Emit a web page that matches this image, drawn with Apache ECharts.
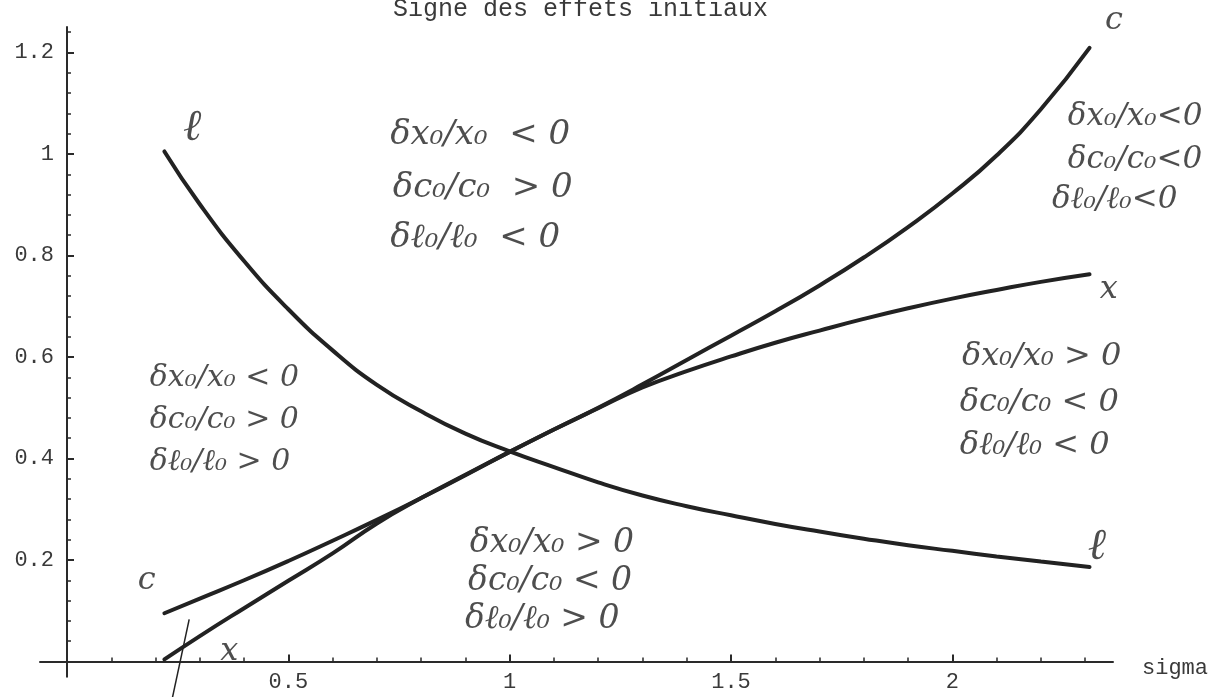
<!DOCTYPE html>
<html>
<head>
<meta charset="utf-8">
<title>Signe des effets initiaux</title>
<script src="https://cdn.jsdelivr.net/npm/echarts@6/dist/echarts.min.js"></script>
<style>
  html, body { margin: 0; padding: 0; background: #ffffff; }
  #chart { width: 1224px; height: 697px; }
</style>
</head>
<body>
<div id="chart"></div>
<script>
// Elasticity of substitution (sigma) sampled along the three curves
const sigma = [0.22, 0.3, 0.4, 0.5, 0.6, 0.7, 0.8, 0.9, 1.0, 1.1, 1.2, 1.3, 1.4, 1.5, 1.6, 1.7, 1.8, 1.9, 2.0, 2.1, 2.2, 2.31];
// curve l
const lVals = [1.005, 0.901, 0.789, 0.694, 0.613, 0.545, 0.493, 0.449, 0.414, 0.383, 0.353, 0.327, 0.306, 0.288, 0.271, 0.256, 0.242, 0.229, 0.218, 0.207, 0.197, 0.186];
// curve c
const cVals = [0.095, 0.124, 0.160, 0.198, 0.238, 0.279, 0.322, 0.367, 0.413, 0.457, 0.500, 0.546, 0.594, 0.642, 0.690, 0.741, 0.796, 0.856, 0.922, 0.997, 1.088, 1.209];
// curve x
const xVals = [0.004, 0.050, 0.105, 0.159, 0.213, 0.272, 0.322, 0.368, 0.413, 0.457, 0.499, 0.540, 0.572, 0.601, 0.628, 0.652, 0.675, 0.696, 0.715, 0.732, 0.748, 0.763];

// tick values
const xTickLabels = [0.5, 1, 1.5, 2];
const xMinorTicks = [0.1, 0.2, 0.3, 0.4, 0.6, 0.7, 0.8, 0.9, 1.1, 1.2, 1.3, 1.4, 1.6, 1.7, 1.8, 1.9, 2.1, 2.2, 2.3];
const yTickLabels = [0.2, 0.4, 0.6, 0.8, 1, 1.2];
const yMinorTicks = [0.04, 0.08, 0.12, 0.16, 0.24, 0.28, 0.32, 0.36, 0.44, 0.48, 0.52, 0.56,
  0.64, 0.68, 0.72, 0.76, 0.84, 0.88, 0.92, 0.96, 1.04, 1.08, 1.12, 1.16, 1.24];

// handwritten sign notes for each region: [sigma, value, text]
const notesTop = [
  [0.730, 1.037, 'δx₀/x₀  < 0'],
  [0.736, 0.933, 'δc₀/c₀  > 0'],
  [0.730, 0.834, 'δℓ₀/ℓ₀  < 0']
];
const notesTopRight = [
  [2.261, 1.073, 'δx₀/x₀<0'],
  [2.261, 0.988, 'δc₀/c₀<0'],
  [2.225, 0.909, 'δℓ₀/ℓ₀<0']
];
const notesLeft = [
  [0.187, 0.558, 'δx₀/x₀ < 0'],
  [0.187, 0.476, 'δc₀/c₀ > 0'],
  [0.187, 0.393, 'δℓ₀/ℓ₀ > 0']
];
const notesRight = [
  [2.022, 0.600, 'δx₀/x₀ > 0'],
  [2.017, 0.509, 'δc₀/c₀ < 0'],
  [2.017, 0.426, 'δℓ₀/ℓ₀ < 0']
];
const notesBottom = [
  [0.910, 0.233, 'δx₀/x₀ > 0'],
  [0.906, 0.157, 'δc₀/c₀ < 0'],
  [0.899, 0.082, 'δℓ₀/ℓ₀ > 0']
];
// curve names written next to the curve ends
const lTags = [
  [0.262, 1.051, 'ℓ'],
  [2.306, 0.224, 'ℓ']
];
const cxTags = [
  [2.345, 1.262, 'c'],
  [2.333, 0.732, 'x'],
  [0.160, 0.160, 'c'],
  [0.346, 0.019, 'x']
];
// pen stroke across the start of x
const penStroke = [[0.276, 0.083], [0.238, -0.072]];

const tickFont = 'Liberation Mono, DejaVu Sans Mono, monospace';
const handFont = 'DejaVu Serif, Liberation Serif, serif';
const axisColor = '#2a2a2a';
const textColor = '#3a3a3a';
const inkColor = '#222222';

const xRange = { min: -0.061, max: 2.363 };
const yRange = { min: -0.03, max: 1.25 };

const fmt = v => String(Math.round(v * 100) / 100);

function pairs(ys) { return sigma.map((s, i) => [s, ys[i]]); }

function curve(name, ys) {
  return {
    name: name, type: 'line', xAxisIndex: 0, yAxisIndex: 0,
    data: pairs(ys), smooth: 0.5,
    showSymbol: false, symbol: 'none', clip: false,
    lineStyle: { color: inkColor, width: 4, cap: 'round' },
    z: 3
  };
}

function notes(name, rows, size) {
  return {
    name: name, type: 'scatter', xAxisIndex: 0, yAxisIndex: 0,
    data: rows, symbolSize: 0, clip: false, silent: true,
    label: {
      show: true, position: 'right', distance: 0,
      formatter: p => p.data[2],
      fontFamily: handFont, fontStyle: 'italic', fontSize: size,
      color: inkColor
    },
    z: 4
  };
}

const chart = echarts.init(document.getElementById('chart'), null, { renderer: 'canvas' });

chart.setOption({
  backgroundColor: '#ffffff',
  animation: false,
  title: {
    text: 'Signe des effets initiaux',
    left: 388, top: -8,
    textStyle: { fontFamily: tickFont, fontSize: 25, fontWeight: 'normal', color: textColor }
  },
  grid: {
    left: 40, right: 111, top: 27.1, bottom: 20.3,
    containLabel: false, outerBoundsMode: 'none'
  },
  xAxis: [
    {
      type: 'value', position: 'bottom', min: xRange.min, max: xRange.max,
      axisLine: { show: true, onZero: true, onZeroAxisIndex: 0, lineStyle: { color: axisColor, width: 2 } },
      axisTick: { show: true, inside: true, length: 7, customValues: xTickLabels, lineStyle: { color: axisColor, width: 2 } },
      axisLabel: {
        show: true, customValues: xTickLabels, margin: -6, formatter: fmt,
        fontFamily: tickFont, fontSize: 22, color: textColor
      },
      splitLine: { show: false },
      name: 'sigma', nameLocation: 'end', nameGap: 29,
      nameTextStyle: { fontFamily: tickFont, fontSize: 22, color: textColor, verticalAlign: 'top', lineHeight: 14 }
    },
    {
      type: 'value', position: 'bottom', min: xRange.min, max: xRange.max,
      axisLine: { show: false, onZero: true, onZeroAxisIndex: 0 },
      axisTick: { show: true, inside: true, length: 4, customValues: xMinorTicks, lineStyle: { color: axisColor, width: 1.5 } },
      axisLabel: { show: false },
      splitLine: { show: false }
    }
  ],
  yAxis: [
    {
      type: 'value', position: 'left', min: yRange.min, max: yRange.max,
      axisLine: { show: true, onZero: true, onZeroAxisIndex: 0, lineStyle: { color: axisColor, width: 2 } },
      axisTick: { show: true, inside: true, length: 7, customValues: yTickLabels, lineStyle: { color: axisColor, width: 2 } },
      axisLabel: {
        show: true, customValues: yTickLabels, margin: -14, formatter: fmt,
        fontFamily: tickFont, fontSize: 22, color: textColor
      },
      splitLine: { show: false }
    },
    {
      type: 'value', position: 'left', min: yRange.min, max: yRange.max,
      axisLine: { show: false, onZero: true, onZeroAxisIndex: 0 },
      axisTick: { show: true, inside: true, length: 4, customValues: yMinorTicks, lineStyle: { color: axisColor, width: 1.5 } },
      axisLabel: { show: false },
      splitLine: { show: false }
    }
  ],
  series: [
    curve('l', lVals),
    curve('c', cVals),
    curve('x', xVals),
    {
      name: 'trait', type: 'line', xAxisIndex: 0, yAxisIndex: 0,
      data: penStroke, showSymbol: false, symbol: 'none', clip: false, silent: true,
      lineStyle: { color: inkColor, width: 1.5 }, z: 4
    },
    notes('haut', notesTop, 34),
    notes('haut droite', notesTopRight, 31),
    notes('gauche', notesLeft, 30),
    notes('droite', notesRight, 32),
    notes('bas', notesBottom, 33),
    notes('ℓ', lTags, 44),
    notes('c, x', cxTags, 32)
  ]
});
</script>
</body>
</html>
